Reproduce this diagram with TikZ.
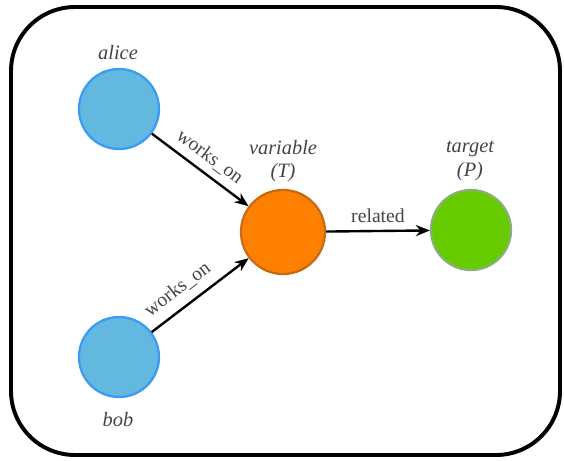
\documentclass[tikz,border=0pt]{standalone}
\usepackage{fontspec}
\setmainfont{Liberation Serif}
\usetikzlibrary{arrows.meta}

\definecolor{personfill}{HTML}{63B8E0}
\definecolor{persondraw}{HTML}{3A9AF5}
\definecolor{varfill}{HTML}{FF8000}
\definecolor{vardraw}{HTML}{C86A10}
\definecolor{targetfill}{HTML}{66CC00}
\definecolor{targetdraw}{HTML}{8AAE78}
\definecolor{labelgray}{HTML}{444444}

\begin{document}
\begin{tikzpicture}[x=0.025cm, y=-0.025cm, >={Stealth[length=10pt,width=8pt]},
  every node/.style={font=\fontsize{14}{16}\selectfont, text=labelgray},
  person/.style={circle, fill=personfill, draw=persondraw, line width=1.6pt, minimum size=2cm, inner sep=0pt},
  vertexlabel/.style={font=\fontsize{14.5}{16.5}\selectfont\itshape},
  rel/.style={->, line width=1.7pt}]
  \useasboundingbox (0,0) rectangle (564,460);
  \draw[line width=2.8pt, rounded corners=1.6cm] (11,7) rectangle (560,455);

  \node[person] (alice) at (119,109) {};
  \node[person] (bob) at (119,357) {};
  \node[circle, fill=varfill, draw=vardraw, line width=1.6pt, minimum size=2.1cm, inner sep=0pt] (variable) at (283,232) {};
  \node[circle, fill=targetfill, draw=targetdraw, line width=1.6pt, minimum size=2cm, inner sep=0pt] (target) at (471,230) {};

  \node[vertexlabel] (alicename) at (118,53) {alice};
  \node[vertexlabel] (bobname) at (118,420) {bob};
  \node[vertexlabel, align=center] (varname) at (283,161) {variable\\(T)};
  \node[vertexlabel, align=center] (targetname) at (470,161) {target\\(P)};

  \draw[rel] (alice) -- node[above=1.5pt, sloped] {works\_on} (variable);
  \draw[rel] (bob) -- node[above=3pt, sloped, pos=0.38] {works\_on} (variable);
  \draw[rel] (variable) -- node[above=2pt] {related} (target);
\end{tikzpicture}
\end{document}
